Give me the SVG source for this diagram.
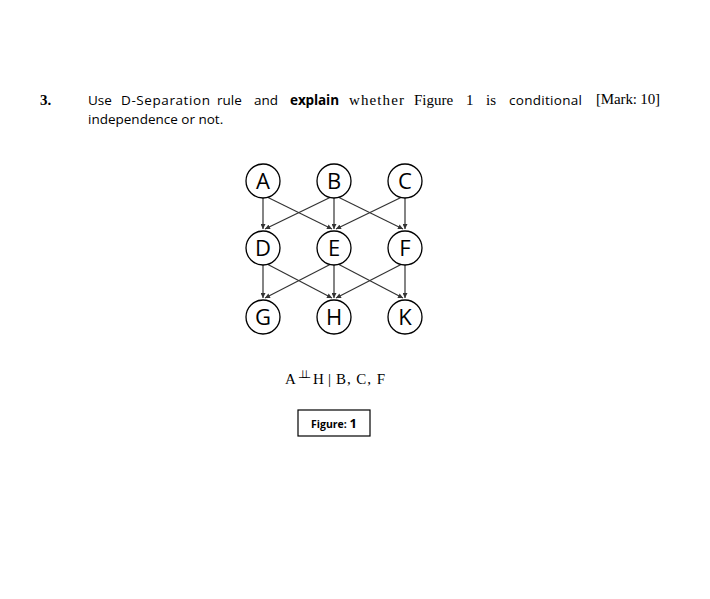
<svg xmlns="http://www.w3.org/2000/svg" width="710" height="599" viewBox="0 0 710 599">
<defs>
<marker id="arr" viewBox="0 0 10 10" refX="10" refY="5" markerWidth="6" markerHeight="5" markerUnits="userSpaceOnUse" orient="auto">
<path d="M0,0 L10,5 L0,10 z" fill="#333"/>
</marker>
<style>
.sans{font-family:"Open Sans","Noto Sans","Liberation Sans",sans-serif;font-size:13.5px;fill:#000}
.serif{font-family:"Liberation Serif","Times New Roman",serif;font-size:15px;fill:#000}
.node circle{fill:#fff;stroke:#000;stroke-width:1.3}
.node text{font-family:"Open Sans","Noto Sans","Liberation Sans",sans-serif;font-size:22px;fill:#000;text-anchor:middle}
.edge{stroke:#333;stroke-width:1.2;fill:none;marker-end:url(#arr)}
</style>
</defs>
<rect width="710" height="599" fill="#fff"/>
<g id="question">
<text x="40" y="105" class="serif" font-weight="bold" font-size="14">3.</text>
<text x="88" y="105" class="sans">Use</text>
<text x="121" y="105" class="sans" textLength="89">D-Separation</text>
<text x="217" y="105" class="sans">rule</text>
<text x="254" y="105" class="sans">and</text>
<text x="290" y="105" class="sans" font-weight="bold" textLength="49">explain</text>
<text x="349" y="105" class="serif" textLength="55">whether</text>
<text x="414" y="105" class="serif">Figure</text>
<text x="466" y="105" class="serif">1</text>
<text x="486" y="105" class="serif">is</text>
<text x="509" y="105" class="sans" textLength="73">conditional</text>
<text x="596" y="104" class="serif" font-size="13" textLength="64">[Mark: 10]</text>
<text x="88" y="124" class="sans">independence or not.</text>
</g>
<g id="connectors">
<line class="edge" x1="263" y1="198" x2="263" y2="229"/>
<line class="edge" x1="267" y1="197" x2="332" y2="229"/>
<line class="edge" x1="331" y1="197" x2="265" y2="229"/>
<line class="edge" x1="334" y1="198" x2="334" y2="229"/>
<line class="edge" x1="338" y1="197" x2="403" y2="229"/>
<line class="edge" x1="402" y1="197" x2="336" y2="229"/>
<line class="edge" x1="405" y1="198" x2="405" y2="229"/>
<line class="edge" x1="263" y1="265" x2="263" y2="298"/>
<line class="edge" x1="267" y1="264" x2="332" y2="298"/>
<line class="edge" x1="331" y1="264" x2="265" y2="298"/>
<line class="edge" x1="334" y1="265" x2="334" y2="298"/>
<line class="edge" x1="338" y1="264" x2="403" y2="298"/>
<line class="edge" x1="402" y1="264" x2="336" y2="298"/>
<line class="edge" x1="405" y1="265" x2="405" y2="298"/>
</g>
<g id="A" class="node"><circle cx="263" cy="181" r="17"/><text x="263" y="189">A</text></g>
<g id="B" class="node"><circle cx="334" cy="181" r="17"/><text x="334" y="189">B</text></g>
<g id="C" class="node"><circle cx="405" cy="181" r="17"/><text x="405" y="189">C</text></g>
<g id="D" class="node"><circle cx="263" cy="248" r="17"/><text x="263" y="256">D</text></g>
<g id="E" class="node"><circle cx="334" cy="248" r="17"/><text x="334" y="256">E</text></g>
<g id="F" class="node"><circle cx="405" cy="248" r="17"/><text x="405" y="256">F</text></g>
<g id="G" class="node"><circle cx="263" cy="317" r="17"/><text x="263" y="325">G</text></g>
<g id="H" class="node"><circle cx="334" cy="317" r="17"/><text x="334" y="325">H</text></g>
<g id="K" class="node"><circle cx="405" cy="317" r="17"/><text x="405" y="325">K</text></g>
<g id="formula">
<text x="285" y="384" class="serif" font-size="16">A</text>
<text x="298" y="378" font-family="DejaVu Sans, sans-serif" font-size="11" letter-spacing="-6" fill="#000">⊥⊥</text>
<text x="313" y="384" class="serif" font-size="16">H</text>
<text x="328" y="384" class="serif" font-size="16" fill="#8b1a1a">|</text>
<text x="336" y="384" class="serif" font-size="16" textLength="49">B, C, F</text>
</g>
<g id="caption">
<rect x="298" y="410" width="72" height="26" fill="#fff" stroke="#000" stroke-width="1.2"/>
<text x="334" y="428" text-anchor="middle" font-family="Open Sans, Noto Sans, Liberation Sans, sans-serif" font-size="10.5" font-weight="bold" fill="#000">Figure: <tspan font-size="13">1</tspan></text>
</g>
</svg>
